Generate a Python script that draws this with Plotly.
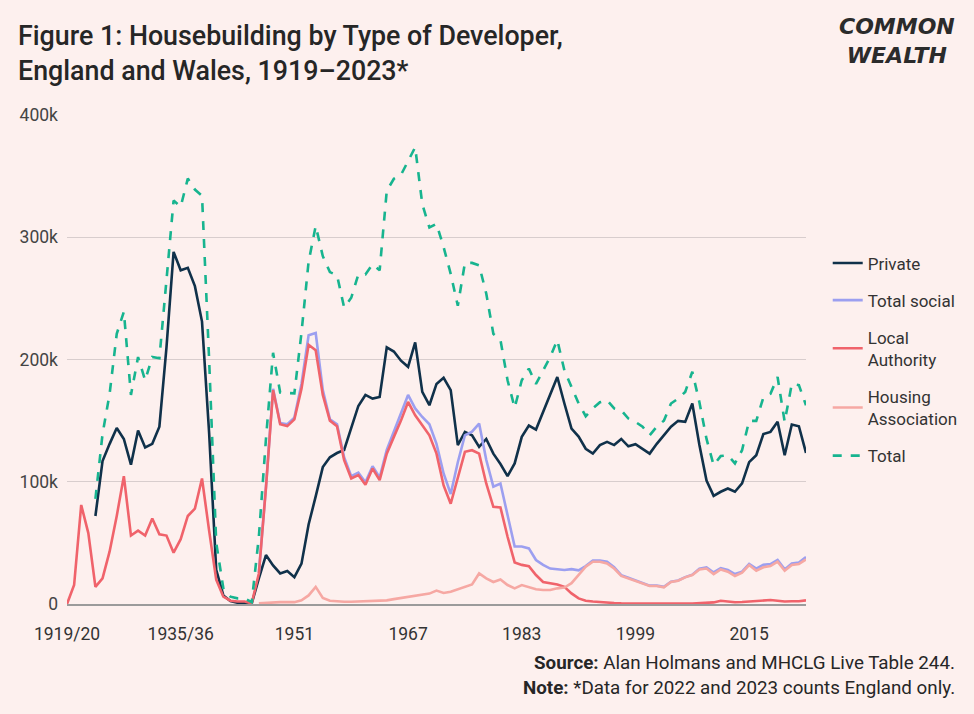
import plotly.graph_objects as go

years = list(range(1919, 2024))

tick_years = [1919, 1935, 1951, 1967, 1983, 1999, 2015]
tick_labels = ["1919/20", "1935/36", "1951", "1967", "1983", "1999", "2015"]

# values in thousands of dwellings
private = [None, None, None, None,
    72, 117, 131, 144, 135, 114, 142, 128, 131, 145,            # 1923-1932
    210, 288, 273, 275, 260, 231, 140, 28, 7, 2.5,              # 1933-1942
    1, 1, 0.5, 21, 40, 31.5, 25, 27, 22, 33,                    # 1943-1952
    65, 88, 112, 120, 123.5, 126, 145, 162, 171, 168,           # 1953-1962
    169.4, 210, 206.5, 199, 194, 214, 173.5, 162.6, 180, 185,   # 1963-1972
    175, 130, 140.8, 138, 128.5, 135, 123, 114.5, 104.6, 115,   # 1973-1982
    136.7, 146, 142.7, 157, 172, 185.7, 164, 143.5, 137, 127,   # 1983-1992
    123, 130, 132.6, 130, 135, 129, 130.7, 127, 123, 131,       # 1993-2002
    138, 145, 149.8, 149, 164, 130, 101, 88.5, 91.8, 94.5,      # 2003-2012
    91.8, 98.6, 116, 121.7, 139, 140.8, 149, 121.7, 146.8, 145.4,  # 2013-2022
    123.6]

local_authority = [
    0, 15.5, 81, 58, 14, 21, 43, 72, 104.6, 56,                 # 1919-1928
    60, 56, 70, 57, 56, 42, 53, 72, 78, 102.7,                  # 1929-1938
    60, 20, 6, 2.7, 2, 2, 0.5, 25, 95, 175,                     # 1939-1948
    147, 145.5, 151, 176, 212, 207.5, 171, 150, 145.4, 117.6,   # 1949-1958
    102.7, 105.5, 97.5, 110.8, 101.3, 123, 136.7, 150, 165.3, 154.4,  # 1959-1968
    146.2, 138, 123, 97, 82, 102.7, 124.5, 125.8, 123, 98.6,    # 1969-1978
    79.5, 79, 55, 34, 32, 31, 23.7, 18, 17, 16,                 # 1979-1988
    14, 8.7, 4.6, 2.7, 2, 1.4, 1, 0.8, 0.6, 0.5,                # 1989-1998
    0.4, 0.4, 0.4, 0.3, 0.3, 0.3, 0.3, 0.3, 0.3, 0.5,           # 1999-2008
    1, 1.3, 2.7, 2, 1.4, 1.6, 2, 2.5, 2.7, 3.3,                 # 2009-2018
    2.7, 2, 2.2, 2.2, 3]                                        # 2019-2023

total_social = [None] * 27 + [
    25.5, 96, 176, 148, 147, 152.5, 180, 219.8, 221.7, 175,     # 1946-1955
    151, 147, 120, 104.6, 107.5, 99.5, 112.7, 103.5, 126, 141,  # 1956-1965
    155, 171, 160, 153, 147, 131, 106.8, 90, 116, 138,          # 1966-1975
    141, 147.6, 118, 96, 98.5, 74, 47, 47, 45.5, 36,            # 1976-1985
    32, 29, 28.3, 27.8, 28.5, 27.5, 31, 35.5, 35.5, 34.5,       # 1986-1995
    30, 23.6, 21.5, 19.4, 17.4, 15, 15, 14, 18.3, 19.3,         # 1996-2005
    22, 24, 28.8, 30, 25.8, 29.4, 27.8, 24.5, 26.4, 32.7,       # 2006-2015
    28.9, 32, 32.7, 36, 28.3, 33.2, 34, 38.4]                   # 2016-2023

housing_association = [None] * 27 + [
    0.5, 1, 1.5, 1.5, 1.5, 1.5, 3, 7, 14, 5,                    # 1946-1955
    2.7, 2, 1.8, 1.8, 2, 2, 2, 2.2, 3, 4,                       # 1956-1965
    5, 5.8, 6.5, 8, 8.5, 11, 9, 10, 12, 14,                     # 1966-1975
    16, 25, 21, 18, 20, 15.5, 12.8, 15.5, 14, 12,               # 1976-1985
    11.4, 11.4, 12.8, 13.5, 17, 23.7, 30.5, 34.6, 34.6, 33.2,   # 1986-1995
    29, 23, 21, 19, 17, 14.7, 14.7, 13.6, 18, 19,               # 1996-2005
    21.8, 23.7, 28.3, 29, 24.5, 28.3, 26.4, 22.9, 25.6, 31.9,   # 2006-2015
    27.2, 30, 31, 34.6, 27.2, 31.9, 32.7, 36.5]                 # 2016-2023

total = [None, None, None, None,
    86, 139, 172, 221, 239, 171, 202, 183, 202, 201,            # 1923-1932
    265, 330, 325, 348, 339, 334, 200, 50, 13, 6,               # 1933-1942
    4.6, 4.6, 1.5, 55, 135, 205.5, 173, 172.7, 172.3, 222,      # 1943-1952
    280, 309.3, 284.5, 271.5, 269, 242.5, 250.5, 269.6, 269.6, 277.8,  # 1953-1962
    272.9, 338, 347.8, 351, 362.7, 373.6, 327, 308, 311, 292,   # 1963-1972
    270, 244, 279, 279, 277, 254, 221, 216, 183, 160.5,         # 1973-1982
    183, 192.5, 180, 190.6, 202, 216, 191, 177.5, 164, 153.6,   # 1983-1992
    160, 165, 166.7, 160, 158.5, 151.7, 149, 145, 138, 145,     # 1993-2002
    150, 164, 168, 173.5, 190, 165, 135, 113.6, 121, 121.7,     # 2003-2012
    115, 125.8, 149.8, 149.8, 169, 172, 185.7, 149, 180, 179,   # 2013-2022
    162.6]

series = [
    ("Private", private, "#10314a", "solid"),
    ("Total social", total_social, "#9c9ff0", "solid"),
    ("Local<br>Authority", local_authority, "#f0636b", "solid"),
    ("Housing<br>Association", housing_association, "#f6a8a3", "solid"),
    ("Total", total, "#17b48f", "dash"),
]

def to_units(vals):
    return [None if v is None else v * 1000 for v in vals]

fig = go.Figure()
for i, (name, vals, color, dash) in enumerate(series):
    fig.add_trace(go.Scatter(
        x=years, y=to_units(vals), name=name, mode="lines",
        line=dict(color=color, width=2.6, dash=dash),
        legendgroup=f"g{i}", connectgaps=False,
    ))

bg = "#fdf0ee"
font_family = "Roboto, Liberation Sans, Arial, sans-serif"

W, H = 974, 714
L, R, T, B = 67, 167, 115, 110
pw, ph = W - L - R, H - T - B

def px(x):
    return (x - L) / pw

def py(y):
    return (H - B - y) / ph

fig.update_layout(
    width=W, height=H,
    paper_bgcolor=bg, plot_bgcolor=bg,
    margin=dict(l=L, r=R, t=T, b=B),
    font=dict(family=font_family, color="#333333", size=16),
    title=dict(
        text="Figure 1: Housebuilding by Type of Developer,<br>England and Wales, 1919–2023*",
        xref="container", yref="container", x=18 / W, xanchor="left",
        y=1 - 45 / H, yanchor="top",
        font=dict(family=font_family, size=26.8, color="#262626", weight=500),
    ),
    showlegend=True,
    legend=dict(
        x=1.028, xanchor="left", y=0.5, yanchor="middle",
        bgcolor="rgba(0,0,0,0)", font=dict(size=17, color="#333333"),
        tracegroupgap=12,
    ),
    xaxis=dict(
        range=[1919, 2023], tickmode="array", tickvals=tick_years, ticktext=tick_labels,
        showgrid=False, zeroline=False, showline=True, linecolor="#9b9b9b", linewidth=1.5,
        ticks="", ticklabelstandoff=13, tickfont=dict(size=17.5, color="#333333"),
    ),
    yaxis=dict(
        range=[0, 400000], tickmode="array",
        tickvals=[0, 100000, 200000, 300000, 400000],
        ticktext=["0", "100k", "200k", "300k", "400k"],
        showgrid=True, gridcolor="#d8cdcd", gridwidth=1.2, zeroline=False,
        ticks="", ticklabelstandoff=8, tickfont=dict(size=17.5, color="#444444"),
    ),
)

# Logo
fig.add_annotation(text="<b><i>COMMON<br>WEALTH</i></b>", xref="paper", yref="paper",
                   x=px(898), y=py(41), showarrow=False, align="center",
                   font=dict(family="DejaVu Sans", size=22, color="#2b2b2b"),
                   xanchor="center", yanchor="middle")

# Footer
fig.add_annotation(text="<b>Source:</b> Alan Holmans and MHCLG Live Table 244.",
                   xref="paper", yref="paper", x=px(958), y=py(663),
                   showarrow=False, xanchor="right", yanchor="middle",
                   font=dict(size=18.8, color="#262626"))
fig.add_annotation(text="<b>Note:</b> *Data for 2022 and 2023 counts England only.",
                   xref="paper", yref="paper", x=px(958), y=py(688),
                   showarrow=False, xanchor="right", yanchor="middle",
                   font=dict(size=18.8, color="#262626"))

fig.write_html(
    "out.html",
    config={"displayModeBar": False},
    post_script="document.body.style.margin='0';document.body.style.padding='0';",
)
